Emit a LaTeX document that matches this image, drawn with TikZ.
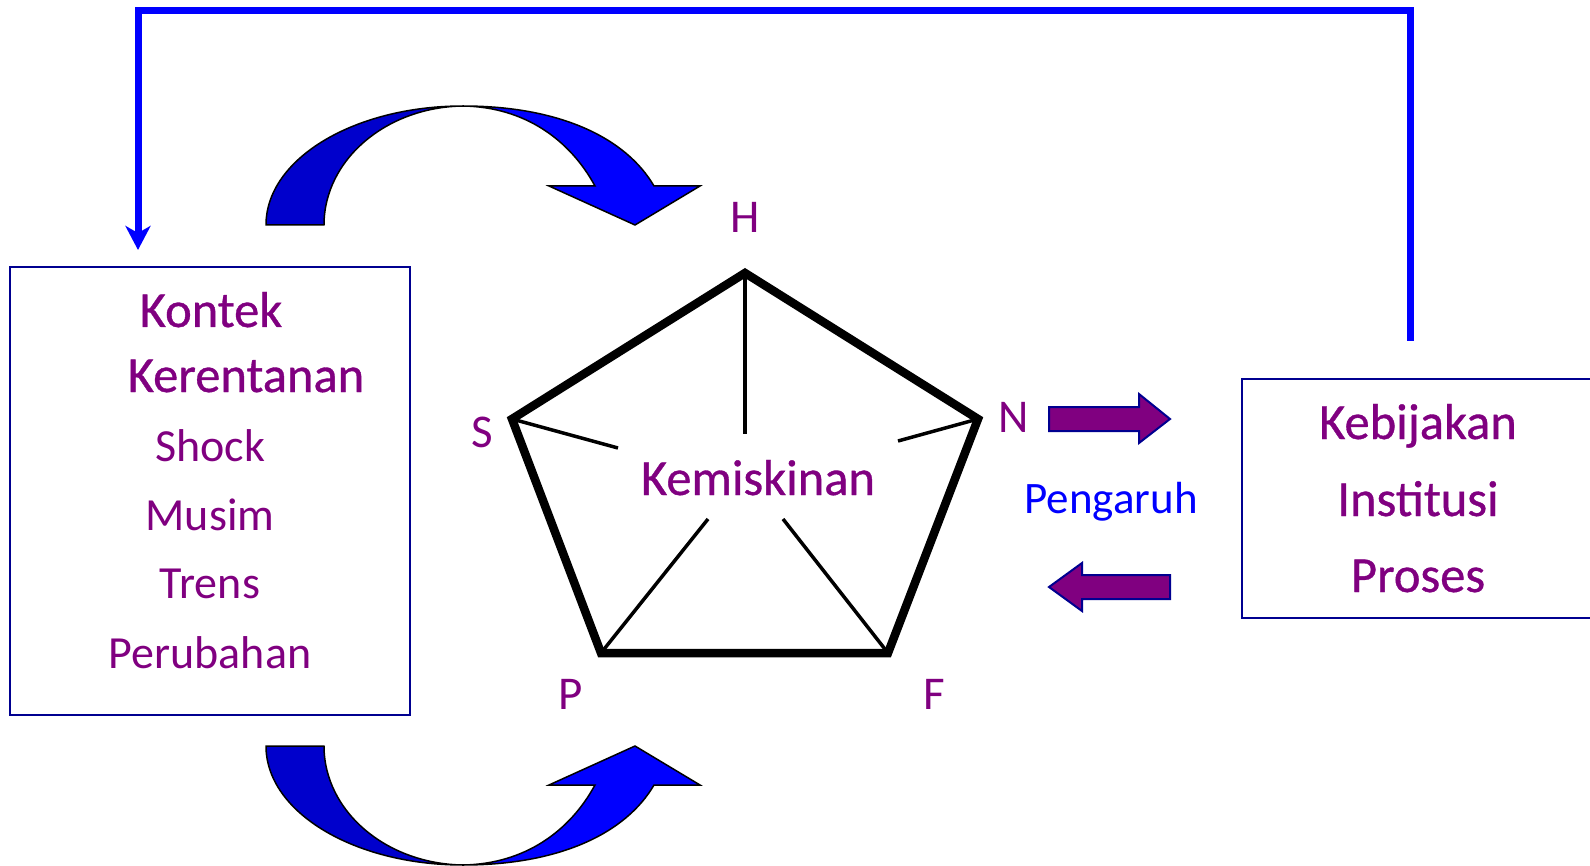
\documentclass[tikz,border=0pt]{standalone}
\usepackage{fontspec}
\setmainfont{Carlito}
\newfontfamily\semibfont[FakeBold=0.7]{Carlito}
\usetikzlibrary{arrows.meta}
\definecolor{txtpurple}{HTML}{800080}
\definecolor{navyb}{HTML}{000090}
\definecolor{darkblue}{HTML}{0000CC}
\definecolor{brightblue}{HTML}{0000FF}
\newcommand\myfs[1]{\fontsize{#1}{#1}\selectfont}
\begin{document}
\begin{tikzpicture}[x=1pt,y=-1pt,
  txt/.style={text=txtpurple, inner sep=0pt, anchor=base},
  bigtxt/.style={txt, font=\semibfont\myfs{50.5}},
  smalltxt/.style={txt, font=\myfs{46}},
  lbl/.style={txt, font=\myfs{47}},
  boxline/.style={draw=navyb, line width=2.5pt},
  blueline/.style={draw=brightblue, line width=7pt, line join=miter},
  pent/.style={draw=black, line width=8.5pt, line join=miter},
  spoke/.style={draw=black, line width=3.5pt},
  parrow/.style={fill=txtpurple, draw=navyb, line width=2pt, line join=miter},
  carrowdark/.style={fill=darkblue, draw=black, line width=1.5pt, line join=round},
  carrowbright/.style={fill=brightblue, draw=black, line width=1.5pt, line join=miter}]
\useasboundingbox (0,0) rectangle (1590,866);

% ---- top feedback line
\coordinate (lstart) at (1410,341);
\coordinate (lend) at (138,250);
\draw[blueline, -{Stealth[length=24pt,width=25pt,inset=7pt]}]
  (lstart) -- (1410,10.5) -- (138,10.5) -- (lend);

% ---- left box
\draw[boxline] (10,267) rectangle (410,715);
\node[bigtxt] (kontek) at (211,327) {Kontek};
\node[bigtxt] (keren) at (246,392) {Kerentanan};
\node[smalltxt] (shock) at (210,461) {Shock};
\node[smalltxt] (musim) at (210,530) {Musim};
\node[smalltxt] (trens) at (210,598) {Trens};
\node[smalltxt] (perub) at (210,668) {Perubahan};

% ---- right box (extends past the right edge)
\draw[boxline] (1595,379) -- (1242,379) -- (1242,618) -- (1595,618);
\node[bigtxt] (kebij) at (1418,439) {Kebijakan};
\node[bigtxt] (instit) at (1418,516) {Institusi};
\node[bigtxt] (proses) at (1418,592) {Proses};

% ---- pentagon
\coordinate (vH) at (745,273);
\coordinate (vN) at (978,419);
\coordinate (vF) at (888,653);
\coordinate (vP) at (601,653);
\coordinate (vS) at (512,419);
\coordinate (eH) at (745,434);
\coordinate (eS) at (618,448);
\coordinate (eN) at (898,441);
\coordinate (eP) at (708,519);
\coordinate (eF) at (783,519);
\draw[spoke] (vH) -- (eH);
\draw[spoke] (vS) -- (eS);
\draw[spoke] (vN) -- (eN);
\draw[spoke] (vP) -- (eP);
\draw[spoke] (vF) -- (eF);
\draw[pent] (vH) -- (vN) -- (vF) -- (vP) -- (vS) -- cycle;
\node[bigtxt] (kemis) at (758,495) {Kemiskinan};

\node[lbl] (lH) at (745,233) {H};
\node[lbl] (lS) at (482,447) {S};
\node[lbl] (lN) at (1014,432) {N};
\node[lbl] (lP) at (571,709) {P};
\node[lbl] (lF) at (934,709) {F};

% ---- purple block arrows
\draw[parrow] (1049,407) -- (1139,407) -- (1139,394) -- (1170,419) -- (1139,443)
  -- (1139,431) -- (1049,431) -- cycle;
\draw[parrow] (1170,575) -- (1082,575) -- (1082,563) -- (1049,587) -- (1082,611)
  -- (1082,599) -- (1170,599) -- cycle;
\node[txt, text=brightblue, font=\myfs{45}] (peng) at (1111,513) {Pengaruh};

% ---- curved arrows
\newcommand\curvedblockarrow{%
  \draw[carrowdark] (266,225) .. controls (266,159) and (354,106) .. (463,106)
    .. controls (386,107) and (324,160) .. (324,225) -- cycle;
  \draw[carrowbright] (463,106) .. controls (560,106) and (626,138) .. (654,186)
    -- (700,186) -- (635,225) -- (549,186) -- (595,186)
    .. controls (570,140) and (525,107) .. (463,106) -- cycle;
}
\curvedblockarrow
\begin{scope}[shift={(0,971)}, yscale=-1]
\curvedblockarrow
\end{scope}
\end{tikzpicture}
\end{document}
